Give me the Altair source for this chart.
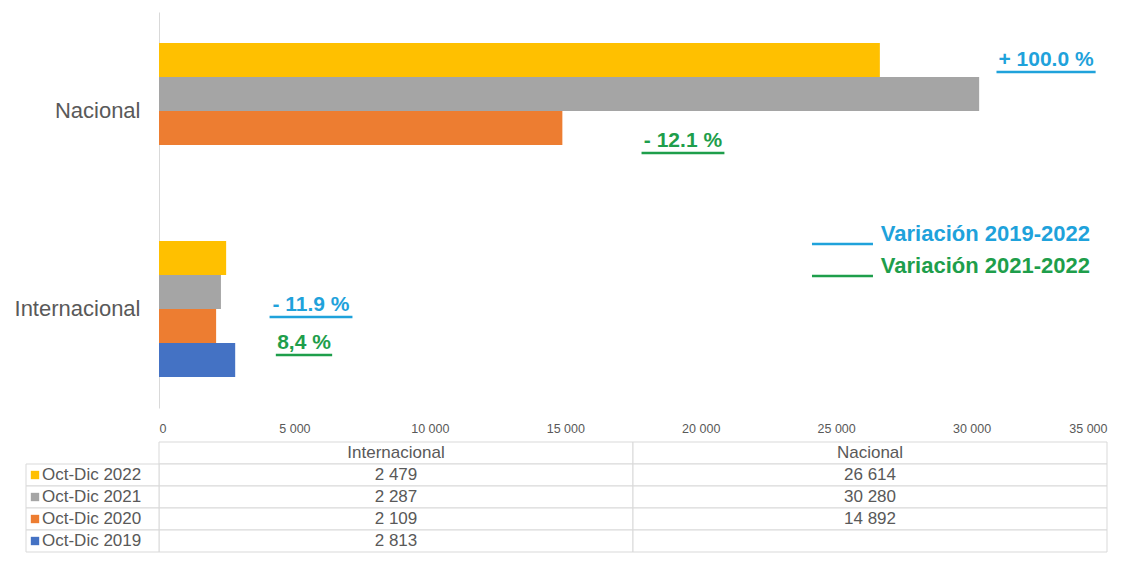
import altair as alt
import pandas as pd

categories = ["Nacional", "Internacional"]
series = ["Oct-Dic 2022", "Oct-Dic 2021", "Oct-Dic 2020", "Oct-Dic 2019"]
colors = ["#FFC000", "#A5A5A5", "#ED7D31", "#4472C4"]
internacional = [2479, 2287, 2109, 2813]
nacional = [26614, 30280, 14892, None]

x_ticks = [0, 5000, 10000, 15000, 20000, 25000, 30000, 35000]

ann_text = ["+ 100.0 %", "- 12.1 %", "- 11.9 %", "8,4 %"]
ann_color = ["#1FA2DB", "#1E9E4B", "#1FA2DB", "#1E9E4B"]
ann_x = [32750, 19345, 5612, 5353]
ann_y = [48, 129, 293, 331]
ann_halfw = [1830, 1530, 1530, 1040]

leg_text = ["Variación  2019-2022", "Variación  2021-2022"]
leg_color = ["#1FA2DB", "#1E9E4B"]
leg_x0 = [24108, 24108]
leg_x1 = [26360, 26360]
leg_tx = [26650, 26650]
leg_y = [222, 254]

GRAY_TXT = "#595959"
FONT = "Liberation Sans"

rows = []
for s, vi, vn in zip(series, internacional, nacional):
    rows.append({"cat": "Internacional", "series": s, "value": vi})
    if vn is not None:
        rows.append({"cat": "Nacional", "series": s, "value": vn})
bars_df = pd.DataFrame(rows)

W, H = 948, 396

color_scale = alt.Scale(domain=series, range=colors)

bars = alt.Chart(bars_df).mark_bar().encode(
    x=alt.X("value:Q", scale=alt.Scale(domain=[0, 35000], nice=False),
            axis=alt.Axis(values=x_ticks, grid=False, domain=False, ticks=False,
                          labelFontSize=12.5, labelColor=GRAY_TXT, labelFont=FONT,
                          labelPadding=14, title=None,
                          labelExpr="replace(format(datum.value, ','), ',', ' ')")),
    y=alt.Y("cat:N", sort=categories,
            scale=alt.Scale(domain=categories, paddingInner=0.313, paddingOuter=0.157),
            axis=alt.Axis(title=None, ticks=False, domain=True, domainColor="#D9D9D9",
                          labelFontSize=22, labelColor=GRAY_TXT, labelFont=FONT,
                          labelPadding=19, grid=False)),
    yOffset=alt.YOffset("series:N", sort=series,
                        scale=alt.Scale(domain=series, paddingInner=0, paddingOuter=0)),
    color=alt.Color("series:N", scale=color_scale, legend=None),
)

ann_df = pd.DataFrame({"text": ann_text, "color": ann_color, "x": ann_x, "py": ann_y,
                       "w": ann_halfw})
ann_df["x0"] = ann_df["x"] - ann_df["w"]
ann_df["x1"] = ann_df["x"] + ann_df["w"]
ann_df["uy"] = ann_df["py"] + 12

ann = alt.Chart(ann_df).mark_text(fontSize=21, fontWeight="bold", font=FONT,
                                  align="center", baseline="middle").encode(
    x=alt.X("x:Q"),
    y=alt.Y("py:Q", scale=None, axis=None),
    text="text:N",
    color=alt.Color("color:N", scale=None, legend=None),
)
ann_rule = alt.Chart(ann_df).mark_rule(strokeWidth=2.5).encode(
    x=alt.X("x0:Q"), x2="x1:Q",
    y=alt.Y("uy:Q", scale=None, axis=None),
    color=alt.Color("color:N", scale=None, legend=None),
)

leg_df = pd.DataFrame({"text": leg_text, "color": leg_color, "x0": leg_x0, "x1": leg_x1,
                       "tx": leg_tx, "py": leg_y})
leg_df["ly"] = leg_df["py"] + 10
leg_lines = alt.Chart(leg_df).mark_rule(strokeWidth=2.5).encode(
    x=alt.X("x0:Q"), x2="x1:Q",
    y=alt.Y("ly:Q", scale=None, axis=None),
    color=alt.Color("color:N", scale=None, legend=None),
)
leg_txt = alt.Chart(leg_df).mark_text(fontSize=22, fontWeight="bold", font=FONT,
                                      align="left", baseline="middle").encode(
    x=alt.X("tx:Q"),
    y=alt.Y("py:Q", scale=None, axis=None),
    text="text:N",
    color=alt.Color("color:N", scale=None, legend=None),
)

top = alt.layer(bars, ann, ann_rule, leg_lines, leg_txt).resolve_scale(
    y="independent", color="independent"
).properties(width=W, height=H)

# ---- table ----
cols = ["Internacional", "Nacional"]
row_keys = ["header"] + series
fmt = lambda v: "" if v is None else f"{v:,}".replace(",", " ")
trows = []
for c in cols:
    trows.append({"col": c, "row": "header", "text": c})
for s, vi, vn in zip(series, internacional, nacional):
    trows.append({"col": "Internacional", "row": s, "text": fmt(vi)})
    trows.append({"col": "Nacional", "row": s, "text": fmt(vn)})
tab_df = pd.DataFrame(trows)

xs = alt.Scale(domain=cols, paddingInner=0, paddingOuter=0)
ys = alt.Scale(domain=row_keys, paddingInner=0, paddingOuter=0)

cells = alt.Chart(tab_df).mark_rect(fill="white", stroke="#D9D9D9", strokeWidth=1).encode(
    x=alt.X("col:N", scale=xs, axis=None),
    y=alt.Y("row:N", scale=ys, axis=None),
)
ctext = alt.Chart(tab_df).mark_text(fontSize=17, color=GRAY_TXT, font=FONT).encode(
    x=alt.X("col:N", scale=xs, axis=None),
    y=alt.Y("row:N", scale=ys, axis=None),
    text="text:N",
)
leg_rows = pd.DataFrame({"row": series, "label": series})
lcells = alt.Chart(leg_rows).mark_rect(fill="white", stroke="#D9D9D9", strokeWidth=1).encode(
    x=alt.value(-133), x2=alt.value(0),
    y=alt.Y("row:N", scale=ys, axis=None),
)
lsq = alt.Chart(leg_rows).mark_square(size=70, opacity=1).encode(
    x=alt.value(-124),
    y=alt.Y("row:N", scale=ys, axis=None),
    color=alt.Color("row:N", scale=color_scale, legend=None),
)
ltxt = alt.Chart(leg_rows).mark_text(fontSize=17, color=GRAY_TXT, font=FONT, align="left").encode(
    x=alt.value(-117),
    y=alt.Y("row:N", scale=ys, axis=None),
    text="label:N",
)
table = alt.layer(cells, ctext, lcells, lsq, ltxt).properties(width=W, height=110)

chart = alt.vconcat(top, table, spacing=6).properties(
    padding={"left": 6, "top": 4, "right": 4, "bottom": 4},
    background="white",
).configure_view(stroke=None)

chart.save("out.html", embed_options={"renderer": "svg", "actions": False})
